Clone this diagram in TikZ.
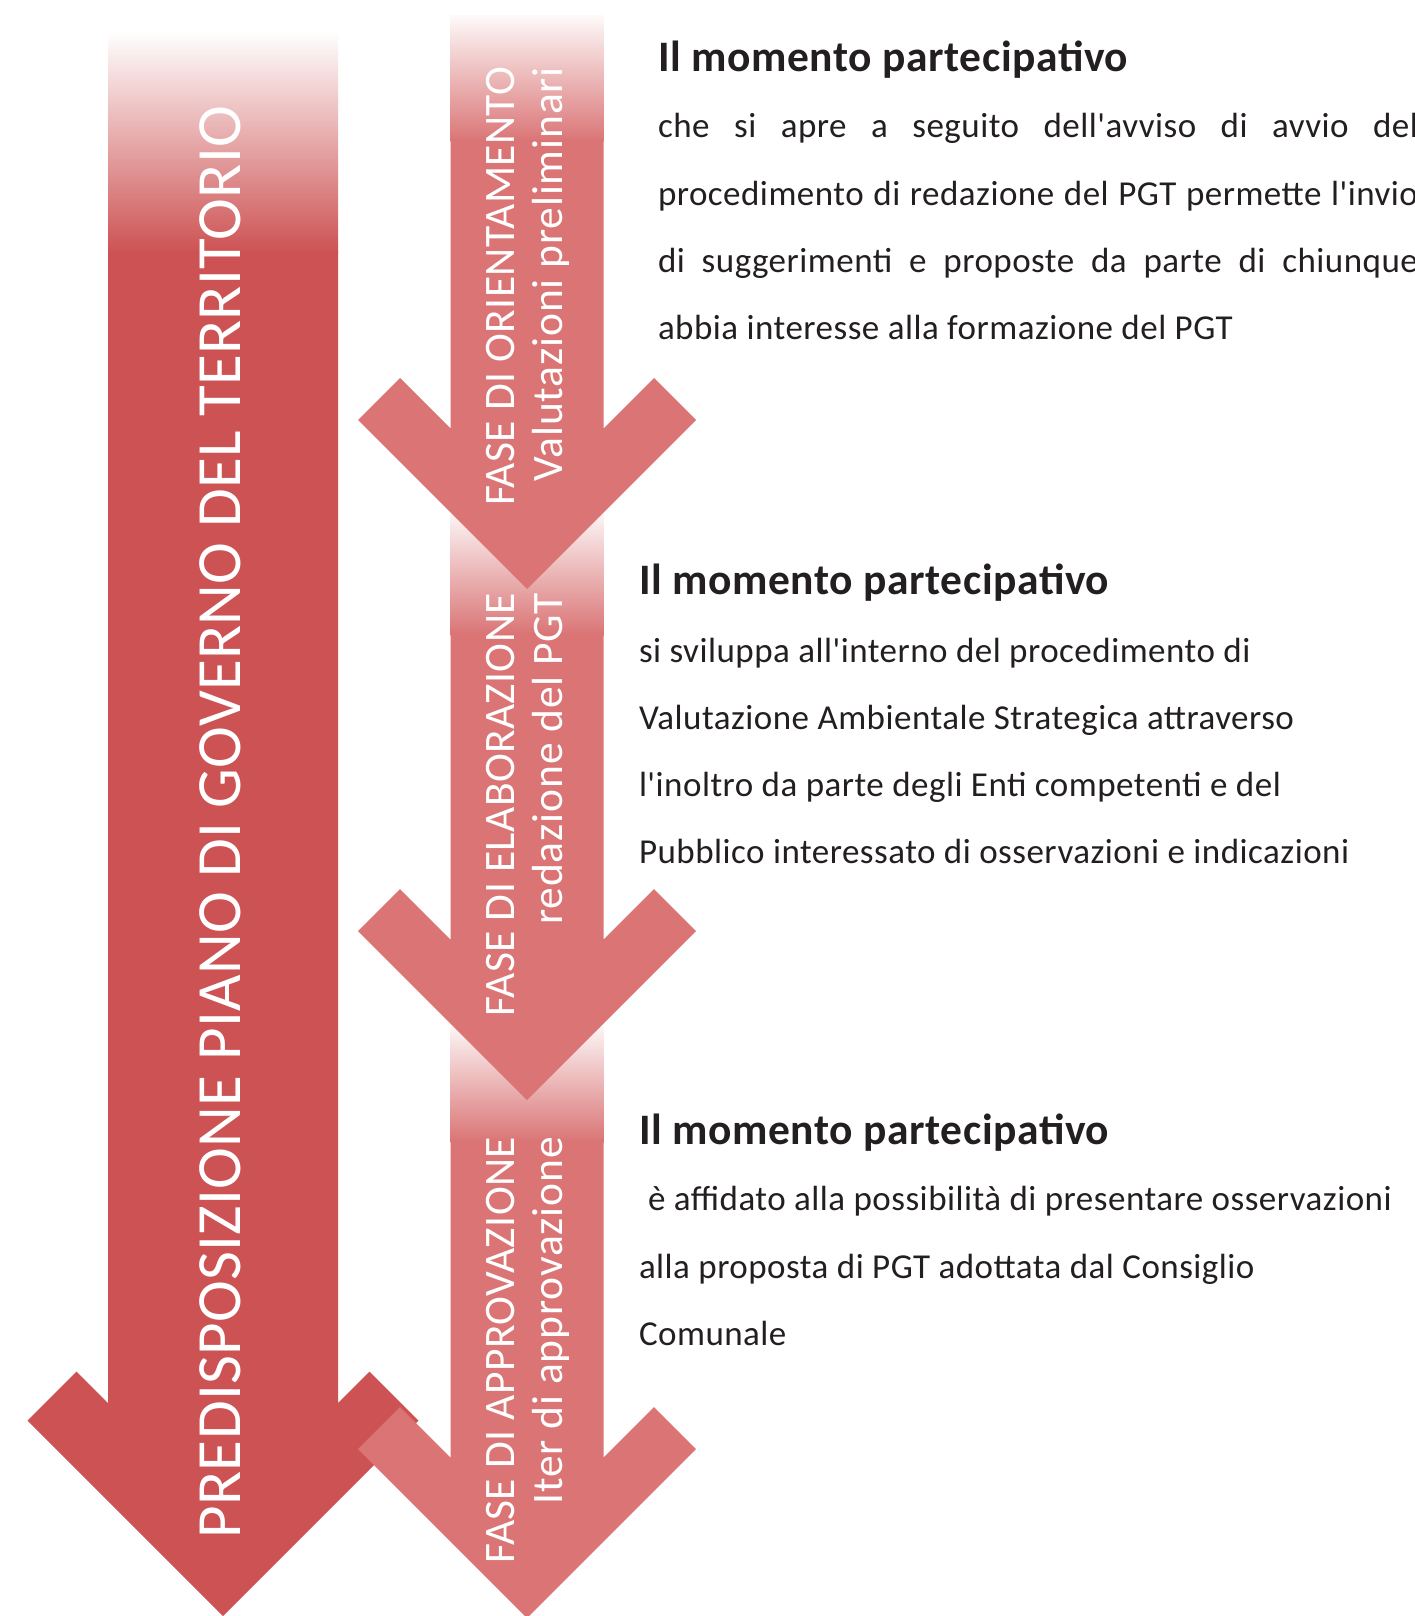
\documentclass[tikz,border=0pt]{standalone}
\usepackage{fontspec}
\setmainfont{Carlito}[Ligatures=TeXOff]
\newfontfamily\bodyfont{Carlito}[Ligatures=TeXOff,LetterSpace=1.4]
\newfontfamily\arrfont{Carlito}[Ligatures=TeXOff,LetterSpace=2.0]
\newfontfamily\arrcapsfont{Carlito}[Ligatures=TeXOff,LetterSpace=0.9]
\newfontfamily\bigfont{Carlito}[Ligatures=TeXOff,LetterSpace=0.5]
\definecolor{bigred}{RGB}{205,82,83}
\definecolor{smallred}{RGB}{218,116,117}
\definecolor{txt}{RGB}{35,31,32}
\begin{document}
\begin{tikzpicture}[x=1pt,y=-1pt,
  every node/.style={inner sep=0pt, outer sep=0pt},
  bodytxt/.style={anchor=base west, text=txt, font=\bodyfont\fontsize{35}{67}\selectfont},
  headtxt/.style={anchor=base west, text=txt, font=\bodyfont\fontsize{43.5}{50}\selectfont\bfseries},
  arrtxt/.style={rotate=90, anchor=base east, text=white, font=\arrfont\fontsize{43.5}{48}\selectfont},
  arrcaps/.style={rotate=90, anchor=base east, text=white, font=\arrcapsfont\fontsize{43.5}{48}\selectfont},
  bigtxt/.style={rotate=90, anchor=base, text=white, font=\bigfont\fontsize{63}{70}\selectfont}]
\useasboundingbox (0,0) rectangle (1414,1616);
\fill[white] (0,0) rectangle (1414,1616);
% big arrow
\shade[top color=white, bottom color=bigred] (108,31) rectangle (338,253);
\fill[bigred] (108,251) -- (108,1403) -- (76.5,1371.5) -- (27.5,1420.5) -- (223,1616) -- (418.5,1420.5) -- (369.5,1371.5) -- (338,1403) -- (338,251) -- cycle;
% arrow 3
\shade[top color=smallred!8, bottom color=smallred] (450.5,1027) rectangle (603.5,1142);
\fill[smallred] (450.5,1140) -- (450.5,1457.5) -- (400,1407) -- (358,1449) -- (527,1618) -- (696,1449) -- (654,1407) -- (603.5,1457.5) -- (603.5,1140) -- cycle;
% arrow 2
\shade[top color=smallred!8, bottom color=smallred] (450.5,514) rectangle (603.5,635);
\fill[smallred] (450.5,633) -- (450.5,939.5) -- (400,889) -- (358,931) -- (527,1100) -- (696,931) -- (654,889) -- (603.5,939.5) -- (603.5,633) -- cycle;
% arrow 1
\shade[top color=smallred!4, bottom color=smallred] (450.5,15.5) rectangle (603.5,142);
\fill[smallred] (450.5,140) -- (450.5,428.5) -- (400,378) -- (358,420) -- (527,589) -- (696,420) -- (654,378) -- (603.5,428.5) -- (603.5,140) -- cycle;
% arrow texts
\node[bigtxt] (big) at (240,822) {PREDISPOSIZIONE PIANO DI GOVERNO DEL TERRITORIO};
\node[arrcaps] (a1l1) at (514,67) {FASE DI ORIENTAMENTO};
\node[arrtxt] (a1l2) at (562,67) {Valutazioni preliminari};
\node[arrcaps] (a2l1) at (514,593) {FASE DI ELABORAZIONE};
\node[arrtxt] (a2l2) at (562,593) {redazione del PGT};
\node[arrcaps] (a3l1) at (514,1137) {FASE DI APPROVAZIONE};
\node[arrtxt] (a3l2) at (562,1137) {Iter di approvazione};
% text block 1
\node[headtxt] (h1) at (658,72) {Il momento partecipativo};
\node[bodytxt] (t1a) at (658,138) {\makebox[760pt][s]{che si apre a seguito dell'avviso di avvio del}};
\node[bodytxt] (t1b) at (658,205) {\makebox[760pt][s]{procedimento di redazione del PGT permette l'invio}};
\node[bodytxt] (t1c) at (658,272) {\makebox[760pt][s]{di suggerimenti e proposte da parte di chiunque}};
\node[bodytxt] (t1d) at (658,339) {abbia interesse alla formazione del PGT};
% text block 2
\node[headtxt] (h2) at (639,594) {Il momento partecipativo};
\node[bodytxt] (t2a) at (639,662) {si sviluppa all'interno del procedimento di};
\node[bodytxt] (t2b) at (639,729) {Valutazione Ambientale Strategica attraverso};
\node[bodytxt] (t2c) at (639,796) {l'inoltro da parte degli Enti competenti e del};
\node[bodytxt] (t2d) at (639,863) {Pubblico interessato di osservazioni e indicazioni};
% text block 3
\node[headtxt] (h3) at (639,1144) {Il momento partecipativo};
\node[bodytxt] (t3a) at (639,1210) {\hspace*{9pt}è affidato alla possibilità di presentare osservazioni};
\node[bodytxt] (t3b) at (639,1278) {alla proposta di PGT adottata dal Consiglio};
\node[bodytxt] (t3c) at (639,1345) {Comunale};
\end{tikzpicture}
\end{document}
